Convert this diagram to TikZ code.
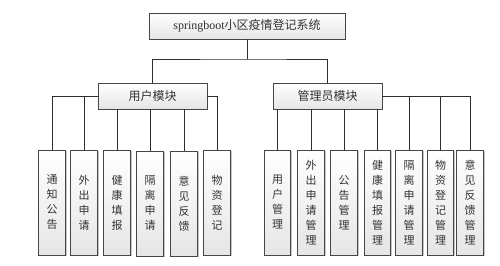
\documentclass[tikz,border=0pt]{standalone}
\usepackage{fontspec}
\setmainfont{Liberation Serif}
\newfontfamily\cjk{Noto Sans CJK SC}
\usetikzlibrary{shadows}
\begin{document}
\begin{tikzpicture}[x=1pt,y=-1pt,
  box/.style={draw=gray!55!black, line width=0.6pt, top color=white, bottom color=gray!20,
    drop shadow={shadow xshift=1.3pt, shadow yshift=-1.3pt, fill=gray!45, opacity=1},
    inner sep=0pt, text=black!80},
  modbox/.style={box, minimum width=109pt, minimum height=26pt, font=\cjk\fontsize{12}{14}\selectfont},
  leaf/.style={box, minimum width=26.5pt, minimum height=105pt, align=center,
    font=\cjk\fontsize{11}{15}\selectfont},
  wire/.style={draw=gray!35!black, line width=0.6pt}]
\useasboundingbox (0,0) rectangle (500,265);
\node[box, minimum width=196pt, minimum height=26pt, font=\fontsize{12}{14}\selectfont] (root) at (247,26) {springboot{\cjk 小区疫情登记系统}};
\node[modbox] (user) at (152.5,96) {用户模块};
\node[modbox] (admin) at (327.5,96) {管理员模块};
\coordinate (bus) at (247,59);
% user leaves
\node[leaf] (u1) at (52,202.5) {通\\知\\公\\告};
\node[leaf] (u2) at (84,202.5) {外\\出\\申\\请};
\node[leaf] (u3) at (117,202.5) {健\\康\\填\\报};
\node[leaf] (u4) at (150,203.5) {隔\\离\\申\\请};
\node[leaf] (u5) at (184,203.5) {意\\见\\反\\馈};
\node[leaf] (u6) at (217,202.5) {物\\资\\登\\记};
% admin leaves
\node[leaf] (a1) at (277.5,202.5) {用\\户\\管\\理};
\node[leaf] (a2) at (311,202.5) {外\\出\\申\\请\\管\\理};
\node[leaf] (a3) at (344,202.5) {公\\告\\管\\理};
\node[leaf] (a4) at (377.5,202.5) {健\\康\\填\\报\\管\\理};
\node[leaf] (a5) at (409,202.5) {隔\\离\\申\\请\\管\\理};
\node[leaf] (a6) at (440.5,202.5) {物\\资\\登\\记\\管\\理};
\node[leaf] (a7) at (470,202.5) {意\\见\\反\\馈\\管\\理};
% connectors
\draw[wire] (root.south) -- (bus);
\draw[wire] (user.north) |- (bus) -| (admin.north);
\draw[wire] (user.west) -| (u1.north);
\draw[wire] (user.west) -| (u2.north);
\draw[wire] (user.south -| u3.north) -- (u3.north);
\draw[wire] (user.south -| u4.north) -- (u4.north);
\draw[wire] (user.south -| u5.north) -- (u5.north);
\draw[wire] (user.east) -| (u6.north);
\draw[wire] (admin.south -| a1.north) -- (a1.north);
\draw[wire] (admin.south -| a2.north) -- (a2.north);
\draw[wire] (admin.south -| a3.north) -- (a3.north);
\draw[wire] (admin.south -| a4.north) -- (a4.north);
\draw[wire] (admin.east) -| (a5.north);
\draw[wire] (admin.east) -| (a6.north);
\draw[wire] (admin.east) -| (a7.north);
\end{tikzpicture}
\end{document}
